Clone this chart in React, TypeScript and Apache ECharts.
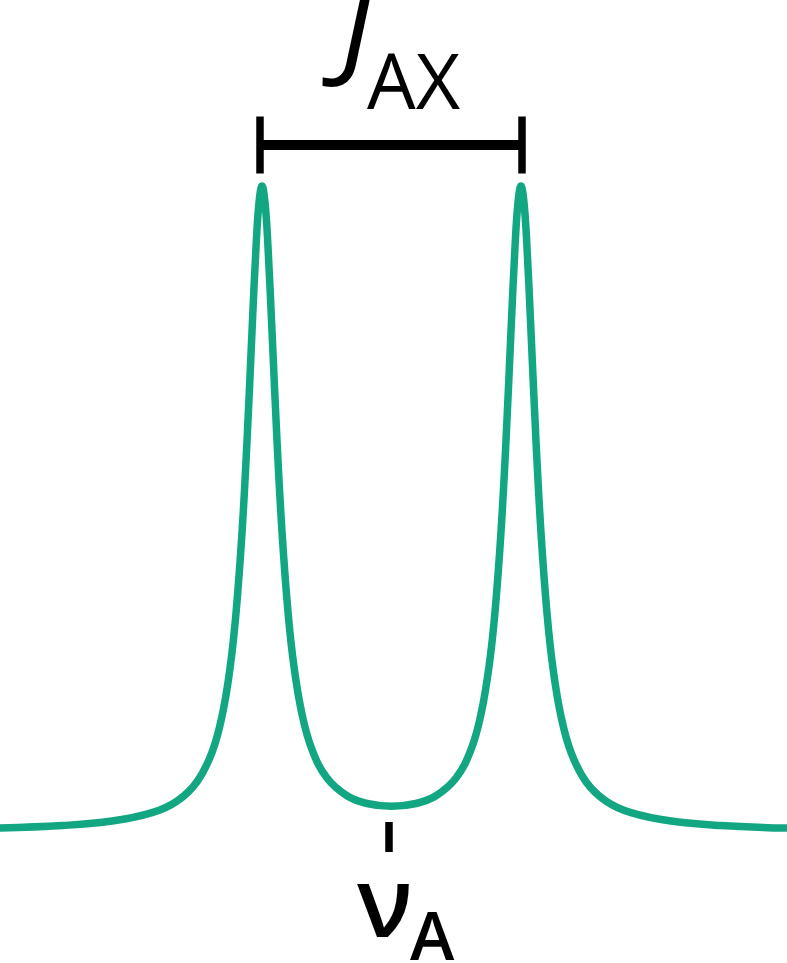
import React, { useEffect, useRef } from "react";
import * as echarts from "echarts";

// Chemical-shift-like position (px-scaled units) of each sample
const frequency = [
  0, 62, 112, 152, 177, 197, 212, 222, 230, 236, 242, 247, 252, 256, 259, 262,
  265, 268, 272, 277, 282, 288, 294, 302, 312, 327, 347, 367,
  391.5,
  416, 436, 456, 471, 481, 489, 495, 501, 506, 511, 515, 518,
  521,
  524, 527, 531, 536, 541, 547, 553, 561, 571, 586, 606, 631, 671, 721, 787,
];

// Signal intensity (peak = 100)
const intensity = [
  0.62, 1.0, 1.69, 2.99, 4.78, 7.78, 12.33, 17.91, 25.32, 33.86, 46.31, 60.47, 77.46, 90.5, 97.44, 100.0,
  97.46, 90.55, 77.54, 60.59, 46.47, 34.06, 25.58, 18.24, 12.75, 8.35, 5.61, 4.41,
  3.98,
  4.41, 5.61, 8.35, 12.75, 18.24, 25.58, 34.06, 46.47, 60.59, 77.54, 90.55, 97.46,
  100.0,
  97.44, 90.5, 77.46, 60.47, 46.31, 33.86, 25.32, 17.91, 12.33, 7.78, 4.78, 2.99, 1.69, 1.0, 0.6,
];

const peakPositions = [260, 522];
const centerPosition = 389;
const couplingMain = "J";
const couplingSub = "AX";
const shiftMain = "ν";
const shiftSub = "A";

export default function App() {
  const ref = useRef<HTMLDivElement>(null);

  useEffect(() => {
    const chart = echarts.init(ref.current!, null, { renderer: "svg" });
    chart.setOption({
      animation: false,
      backgroundColor: "#ffffff",
      grid: { left: 0, right: 0, top: 186, bottom: 131 },
      xAxis: { type: "value", min: 0, max: 787, show: false },
      yAxis: { type: "value", min: 0, max: 100, show: false },
      series: [
        {
          type: "line",
          data: frequency.map((f, i) => [f, intensity[i]]),
          showSymbol: false,
          smooth: 0.4,
          clip: false,
          silent: true,
          lineStyle: { color: "#13a683", width: 7.5, cap: "round", join: "round" },
        },
      ],
    });

    const lx = chart.convertToPixel({ gridIndex: 0 }, [peakPositions[0], 0])[0];
    const rx = chart.convertToPixel({ gridIndex: 0 }, [peakPositions[1], 0])[0];
    const cx = chart.convertToPixel({ gridIndex: 0 }, [centerPosition, 0])[0];

    const font = "'Open Sans', 'Noto Sans', sans-serif";
    chart.setOption({
      graphic: [
        { type: "rect", shape: { x: lx, y: 140, width: rx - lx, height: 10 }, style: { fill: "#000" } },
        { type: "rect", shape: { x: lx - 3.75, y: 116.5, width: 7.5, height: 57 }, style: { fill: "#000" } },
        { type: "rect", shape: { x: rx - 3.75, y: 116.5, width: 7.5, height: 57 }, style: { fill: "#000" } },
        { type: "rect", shape: { x: cx - 3.75, y: 822, width: 7.5, height: 30 }, style: { fill: "#000" } },
        {
          type: "text", x: 341, y: 19,
          style: { text: couplingMain, fontFamily: font, fontSize: 118, lineHeight: 40, fontStyle: "italic", fontWeight: 400, fill: "#000", align: "left", verticalAlign: "middle" },
        },
        {
          type: "text", x: 367, y: 79.5,
          style: { text: couplingSub, fontFamily: font, fontSize: 77, lineHeight: 56, fontWeight: 400, fill: "#000", align: "left", verticalAlign: "middle" },
        },
        {
          type: "text", x: 357, y: 899,
          style: { text: shiftMain, fontFamily: font, fontSize: 98, lineHeight: 60, fontWeight: 600, fill: "#000", align: "left", verticalAlign: "middle" },
        },
        {
          type: "text", x: 410, y: 934,
          style: { text: shiftSub, fontFamily: font, fontSize: 67, lineHeight: 40, fontWeight: 600, fill: "#000", align: "left", verticalAlign: "middle" },
        },
      ],
    });

    return () => chart.dispose();
  }, []);

  return (
    <div
      ref={ref}
      style={{ position: "fixed", left: 0, top: 0, width: 787, height: 963, background: "#fff" }}
    />
  );
}
